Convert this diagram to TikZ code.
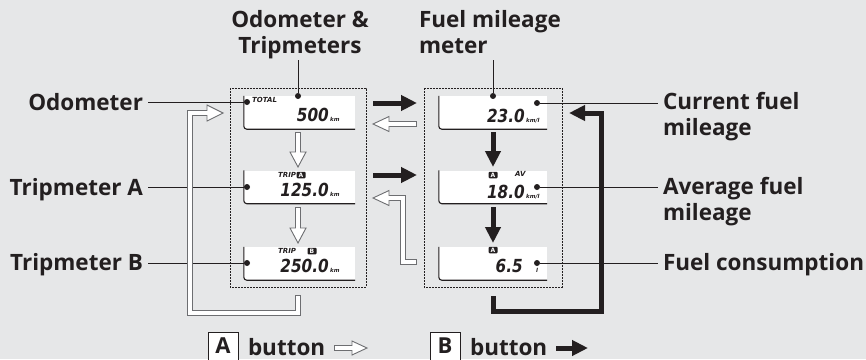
\documentclass[tikz,border=0pt]{standalone}
\usepackage{fontspec}
\setmainfont{Open Sans}
\newfontfamily\lcdfont{DejaVu Sans}
\newfontfamily\lcdnumfont{DejaVu Sans}[FakeStretch=0.85]
\usetikzlibrary{arrows.meta}
\definecolor{bg}{HTML}{E6E7E8}
\definecolor{ink}{HTML}{231F20}
\definecolor{hline}{HTML}{6D6E71}
\tikzset{
  lbl/.style={font=\fontsize{22.5}{26}\selectfont\bfseries, text=ink, inner sep=0pt, outer xsep=5pt},
  lcd/.style={fill=white, draw=none, minimum height=33pt, inner sep=0pt},
  lcdedge/.style={draw=ink, line width=1.1pt, rounded corners=3pt},
  leader/.style={draw=ink, line width=1pt},
  dot/.style={circle, fill=ink, inner sep=0pt, minimum size=6pt},
  group/.style={draw=ink, line width=0.6pt, dash pattern=on 1.6pt off 1.4pt},
  barrow/.style={draw=ink, line width=5pt, line join=miter, -{Triangle[length=16pt,width=15pt]}},
  hout/.style={draw=hline, line width=6.5pt, line join=miter},
  hin/.style={draw=white, line width=4.5pt, line join=miter, shorten <=1pt},
  hhead/.style={fill=white, draw=hline, line width=0.9pt, line join=miter},
  lcdnum/.style={font=\lcdnumfont\bfseries\itshape\fontsize{18}{18}\selectfont, inner sep=0pt, anchor=base east, text=ink},
  lcdsmall/.style={font=\lcdfont\bfseries\itshape\fontsize{7}{7}\selectfont, inner sep=0pt, text=ink},
  lcdunit/.style={font=\lcdfont\bfseries\itshape\fontsize{5.5}{5.5}\selectfont, inner sep=0pt, anchor=base west, text=ink},
  tag/.style={fill=ink, text=white, rounded corners=1pt, font=\lcdfont\bfseries\fontsize{6}{6}\selectfont, inner sep=0pt, minimum width=9pt, minimum height=6.5pt},
  keybox/.style={draw=ink, fill=white, line width=0.9pt, minimum width=30pt, minimum height=28pt, inner sep=0pt, font=\fontsize{22}{22}\selectfont\bfseries, text=ink},
}
\begin{document}
\begin{tikzpicture}[x=1pt,y=-1pt]
\useasboundingbox (0,0) rectangle (866,359);
\fill[bg] (0,0) rectangle (866,359);

% group boxes
\draw[group] (230,88) rectangle (366,287);
\draw[group] (424,88) rectangle (562,287);

% LCD panels
\node[lcd, minimum width=111pt] (L1) at (299.5,112.5) {};
\node[lcd, minimum width=111pt] (L2) at (299.5,187) {};
\node[lcd, minimum width=111pt] (L3) at (299.5,263.5) {};
\node[lcd, minimum width=108pt] (R1) at (493,112.5) {};
\node[lcd, minimum width=108pt] (R2) at (493,187) {};
\node[lcd, minimum width=108pt] (R3) at (493,263.5) {};
\foreach \p in {L1,L2,L3,R1,R2,R3}
  \draw[lcdedge] (\p.north west) -- (\p.south west) -- (\p.south east);

% LCD contents
\node[lcdsmall, anchor=west] (L1t) at (252,100) {TOTAL};
\node[lcdnum] (L1n) at (329,121) {500};
\node[lcdunit] (L1u) at (330,121) {km};
\node[lcdsmall, anchor=west] (L2t) at (278,175) {TRIP};
\node[tag] (L2a) at (301,175) {A};
\node[lcdnum] (L2n) at (329,196) {125.0};
\node[lcdunit] (L2u) at (330,196) {km};
\node[lcdsmall, anchor=west] (L3t) at (278,251) {TRIP};
\node[tag] (L3b) at (312,251) {B};
\node[lcdnum] (L3n) at (329,272) {250.0};
\node[lcdunit] (L3u) at (330,272) {km};
\node[lcdnum] (R1n) at (525,122) {23.0};
\node[lcdunit] (R1u) at (526,122) {km/l};
\node[tag] (R2a) at (493,175) {A};
\node[lcdsmall, anchor=west] (R2t) at (515,174) {AV};
\node[lcdnum] (R2n) at (525,198) {18.0};
\node[lcdunit] (R2u) at (526,198) {km/l};
\node[tag] (R3a) at (493,250) {A};
\node[lcdnum] (R3n) at (523,272) {6.5};
\node[lcdunit, anchor=base] (R3u) at (537,272) {l};

% dots
\node[dot] (dL1) at (247,102) {};
\node[dot] (dL2) at (247,187) {};
\node[dot] (dL3) at (247,263) {};
\node[dot] (dT) at (298,96) {};
\node[dot] (dF) at (493,96) {};
\node[dot] (dR1) at (537,103) {};
\node[dot] (dR2) at (537,187) {};
\node[dot] (dR3) at (537,263) {};

% labels (base anchor = baseline of the last line)
\node[lbl, anchor=base east] (odo) at (148,110) {Odometer};
\node[lbl, anchor=base east] (tra) at (148,195) {Tripmeter A};
\node[lbl, anchor=base east] (trb) at (148,270) {Tripmeter B};
\node[lbl, anchor=base, align=center] (odt) at (300,53) {Odometer \&\\Tripmeters};
\node[lbl, anchor=base west, align=left, outer xsep=0pt] (fmm) at (419,53) {Fuel mileage\\meter};
\node[lbl, anchor=base west, align=left] (cur) at (658,135) {Current fuel\\mileage};
\node[lbl, anchor=base west, align=left] (avg) at (658,220) {Average fuel\\mileage};
\node[lbl, anchor=base west] (con) at (658,270) {Fuel consumption};
\coordinate (tOT) at (298,60);
\coordinate (tFM) at (493,60);

% leaders
\draw[leader] (odo.east |- dL1) -- (dL1);
\draw[leader] (tra.east |- dL2) -- (dL2);
\draw[leader] (trb.east |- dL3) -- (dL3);
\draw[leader] (tOT) -- (dT);
\draw[leader] (tFM) -- (dF);
\draw[leader] (dR1) -- (cur.west |- dR1);
\draw[leader] (dR2) -- (avg.west |- dR2);
\draw[leader] (dR3) -- (con.west |- dR3);

% black arrows (button B)
\draw[barrow] (373,103) -- (417,103);
\draw[barrow] (373,175) -- (417,175);
\draw[barrow] (493,132) -- (493,167);
\draw[barrow] (493,207) -- (493,243);
\draw[barrow] (493,296) -- (493,311) -- (601,311) -- (601,113) -- (569,113);

% hollow arrows (button A)
\draw[hout] (417,124) -- (389,124);
\filldraw[hhead] (373,124) -- (389,116.5) -- (389,131.5) -- cycle;
\draw[hin] (417,124) -- (387.5,124);

\draw[hout] (417,262) -- (403,262) -- (403,198) -- (389,198);
\filldraw[hhead] (373,198) -- (389,190.5) -- (389,205.5) -- cycle;
\draw[hin] (417,262) -- (403,262) -- (403,198) -- (387.5,198);

\draw[hout] (298,132) -- (298,152);
\filldraw[hhead] (298,167) -- (290,152) -- (306,152) -- cycle;
\draw[hin] (298,132) -- (298,153.5);

\draw[hout] (298,207) -- (298,228);
\filldraw[hhead] (298,243) -- (290,228) -- (306,228) -- cycle;
\draw[hin] (298,207) -- (298,229.5);

\draw[hout] (298,295) -- (298,313) -- (190,313) -- (190,113) -- (207,113);
\filldraw[hhead] (223,113) -- (207,105) -- (207,121) -- cycle;
\draw[hin] (298,295) -- (298,313) -- (190,313) -- (190,113) -- (208.5,113);

% legend
\node[keybox] (kA) at (223,346) {A};
\node[lbl, anchor=base west, outer xsep=0pt] (bA) at (248,355) {button};
\draw[hout] (334,348) -- (352,348);
\filldraw[hhead] (367,348) -- (352,341) -- (352,355) -- cycle;
\draw[hin] (334,348) -- (353.5,348);

\node[keybox] (kB) at (445,346) {B};
\node[lbl, anchor=base west, outer xsep=0pt] (bB) at (470,355) {button};
\draw[barrow] (556,348) -- (588,348);
\end{tikzpicture}
\end{document}
